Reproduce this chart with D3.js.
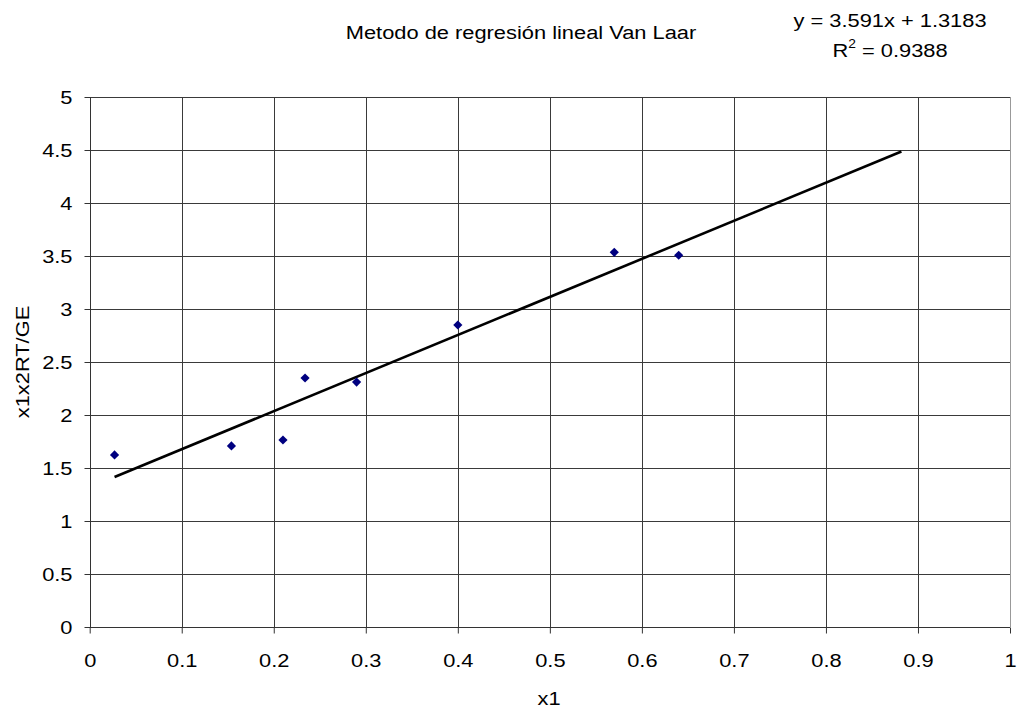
<!DOCTYPE html>
<html>
<head>
<meta charset="utf-8">
<script src="https://cdn.jsdelivr.net/npm/d3@7"></script>
<style>
body { margin: 0; background: #fff; }
text { font-family: "Liberation Sans", Arial, sans-serif; fill: #000; }
</style>
</head>
<body>
<div id="chart"></div>
<script>
// data
var x1Values = [0.027, 0.154, 0.21, 0.234, 0.29, 0.40, 0.57, 0.64]
var yValues  = [1.623, 1.708, 1.764, 2.349, 2.311, 2.849, 3.535, 3.507]
var xTicks = [0, 0.1, 0.2, 0.3, 0.4, 0.5, 0.6, 0.7, 0.8, 0.9, 1]
var yTicks = [0, 0.5, 1, 1.5, 2, 2.5, 3, 3.5, 4, 4.5, 5]
var slope = 3.591, intercept = 1.3183, r2 = "0.9388"
var trendEnd = 0.882

var w = 1018, h = 708,
	plotLeft = 89.7, plotRight = 1010, plotTop = 97, plotBottom = 627,
	fontSize = 19,
	stretch = 1.15 //the reference type is a bit wider than Liberation Sans

var svg = d3.select("#chart").append("svg")
	.attr("width", w)
	.attr("height", h)

var x = d3.scaleLinear().domain([0, 1]).range([plotLeft, plotRight])
var y = d3.scaleLinear().domain([0, 5]).range([plotBottom, plotTop])

// grid
svg.append("g").selectAll("line")
	.data(yTicks.slice(1))
	.enter().append("line")
	.attr("x1", plotLeft).attr("x2", plotRight)
	.attr("y1", function(d){ return Math.round(y(d)) + 0.5 })
	.attr("y2", function(d){ return Math.round(y(d)) + 0.5 })
	.attr("stroke", "#3a3a3a")
	.attr("stroke-width", 1)

svg.append("g").selectAll("line")
	.data(xTicks.slice(1))
	.enter().append("line")
	.attr("y1", plotTop).attr("y2", plotBottom)
	.attr("x1", function(d){ return Math.round(x(d)) + 0.5 })
	.attr("x2", function(d){ return Math.round(x(d)) + 0.5 })
	.attr("stroke", function(d){ return d == 1 ? "#999" : "#3a3a3a" })
	.attr("stroke-width", 1)

// axes
var xAxis = svg.append("g")
	.attr("transform", "translate(0," + (Math.round(plotBottom) + 0.5) + ")")
	.call(d3.axisBottom(x).tickValues(xTicks).tickSize(6).tickPadding(20)
		.tickFormat(function(d){ return d3.format("")(d) }))
var yAxis = svg.append("g")
	.attr("transform", "translate(" + (Math.round(plotLeft) + 0.5) + ",0)")
	.call(d3.axisLeft(y).tickValues(yTicks).tickSize(6).tickPadding(12)
		.tickFormat(function(d){ return d3.format("")(d) }))

svg.selectAll(".domain").attr("stroke", "#333").attr("stroke-width", 1)
svg.selectAll(".tick line").attr("stroke", "#333")
svg.selectAll(".tick text")
	.attr("font-family", "Liberation Sans, Arial, sans-serif")
	.attr("font-size", fontSize)
	.attr("fill", "#000")
	.attr("transform", "scale(" + stretch + ",1)")
yAxis.selectAll(".tick text").attr("x", -18 / stretch)
xAxis.select(".domain").attr("d", "M" + plotLeft + ",0H" + plotRight)
yAxis.select(".domain").attr("d", "M0," + plotBottom + "V" + plotTop)

// trendline
svg.append("line")
	.attr("x1", x(d3.min(x1Values)))
	.attr("y1", y(slope * d3.min(x1Values) + intercept))
	.attr("x2", x(trendEnd))
	.attr("y2", y(slope * trendEnd + intercept))
	.attr("stroke", "#000")
	.attr("stroke-width", 2.6)

// points
svg.append("g").selectAll("path")
	.data(x1Values)
	.enter().append("path")
	.attr("d", "M0,-4.6L4.6,0L0,4.6L-4.6,0Z")
	.attr("transform", function(d,i){ return "translate(" + x(d) + "," + y(yValues[i]) + ")" })
	.attr("fill", "#000080")

// titles
function label(tx, ty, rot){
	return svg.append("text")
		.attr("transform", "translate(" + tx + "," + ty + ")" + (rot ? " rotate(" + rot + ")" : "") + " scale(" + stretch + ",1)")
		.attr("text-anchor", "middle")
		.attr("font-size", fontSize)
}

label(521, 39).text("Metodo de regresión lineal Van Laar")
label(890, 27).text("y = " + slope + "x + " + intercept)

var r2Text = label(890, 57)
r2Text.append("tspan").text("R")
r2Text.append("tspan").attr("dy", -9).attr("font-size", 12).text("2")
r2Text.append("tspan").attr("dy", 9).text(" = " + r2)

label(549, 705).text("x1")
label(29, 362, -90).text("x1x2RT/GE")
</script>
</body>
</html>
